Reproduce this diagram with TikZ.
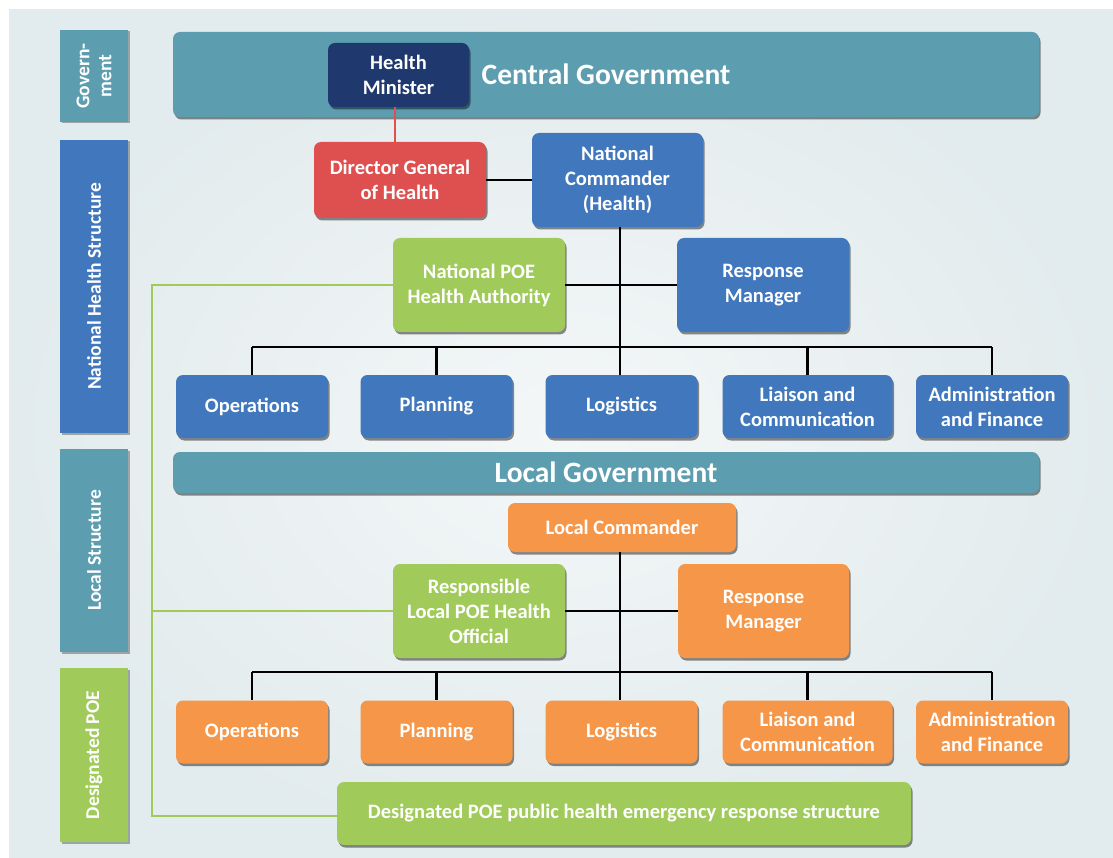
\documentclass[tikz,border=0pt]{standalone}
\usepackage{fontspec}
\setmainfont{Carlito}
\usetikzlibrary{calc}
\usetikzlibrary{shadows}
\definecolor{panelbg}{RGB}{226,235,237}
\definecolor{panelhi}{RGB}{244,247,248}
\definecolor{govteal}{RGB}{92,157,176}
\definecolor{healthblue}{RGB}{65,120,189}
\definecolor{ministernavy}{RGB}{31,57,110}
\definecolor{directorred}{RGB}{222,80,79}
\definecolor{poegreen}{RGB}{160,203,90}
\definecolor{localorange}{RGB}{246,150,72}
\tikzset{
	box/.style={rounded corners=7pt, text=white, align=center, inner sep=2pt,
		font=\bfseries\fontsize{20.5}{25}\selectfont,
		drop shadow={shadow xshift=1.5pt, shadow yshift=-2.5pt, opacity=.45, fill=black}},
	sidebar/.style={rotate=90, text=white, align=center, inner sep=2pt, minimum height=68pt,
		font=\bfseries\fontsize{19.5}{22}\selectfont,
		drop shadow={shadow xshift=1.5pt, shadow yshift=-1.5pt, opacity=.3, fill=black}},
	govbar/.style={box, fill=govteal, minimum width=866pt, font=\bfseries\fontsize{29.5}{34}\selectfont},
	unit/.style={box, minimum width=152pt, minimum height=63pt},
	link/.style={line width=2.2pt, black},
	poelink/.style={line width=2.2pt, poegreen},
}
\begin{document}
\begin{tikzpicture}[x=1pt,y=-1pt]
	\useasboundingbox (0,0) rectangle (1113,858);
	\shade[inner color=panelhi, outer color=panelbg] (9,10) rectangle (1113,858);
	% level labels
	\node[sidebar, fill=govteal, minimum width=92pt] (govlbl) at (94,76) {Govern-\\ment};
	\node[sidebar, fill=healthblue, minimum width=293pt] (nhslbl) at (94,286.5) {National Health Structure};
	\node[sidebar, fill=govteal, minimum width=203pt] (loclbl) at (94,550.5) {Local Structure};
	\node[sidebar, fill=poegreen, minimum width=174pt] (poelbl) at (94,755) {Designated POE};
	% national level
	\node[govbar, minimum height=85pt] (cgov) at (606,74.5) {Central Government};
	\node[box, fill=ministernavy, minimum width=141pt, minimum height=64pt] (hmin) at (398.5,75) {Health\\Minister};
	\node[box, fill=directorred, minimum width=172pt, minimum height=76pt] (dgen) at (400,180) {Director General\\of Health};
	\node[box, fill=healthblue, minimum width=171pt, minimum height=94pt] (ncom) at (617.5,180) {National\\Commander\\(Health)};
	\node[box, fill=poegreen, minimum width=172pt, minimum height=94pt] (npoe) at (479,285) {National POE\\Health Authority};
	\node[box, fill=healthblue, minimum width=172pt, minimum height=94pt] (nrm) at (763,285) {Response\\Manager};
	\node[unit, fill=healthblue] (nops) at (252,406.5) {Operations};
	\node[unit, fill=healthblue] (nplan) at (436.5,406.5) {Planning};
	\node[unit, fill=healthblue] (nlog) at (621.5,406.5) {Logistics};
	\node[unit, fill=healthblue, minimum width=170pt] (nlia) at (807.5,406.5) {Liaison and\\Communication};
	\node[unit, fill=healthblue] (nadm) at (992,406.5) {Administration\\and Finance};
	\coordinate (nbus) at (620,347);
	% local level
	\node[govbar, minimum height=41pt] (lgov) at (606,472.5) {Local Government};
	\node[box, fill=localorange, minimum width=228pt, minimum height=49pt] (lcom) at (622,527.5) {Local Commander};
	\node[box, fill=poegreen, minimum width=172pt, minimum height=94pt] (lpoe) at (479,611) {Responsible\\Local POE Health\\Official};
	\node[box, fill=localorange, minimum width=171pt, minimum height=94pt] (lrm) at (763.5,611) {Response\\Manager};
	\node[unit, fill=localorange] (lops) at (252,732) {Operations};
	\node[unit, fill=localorange] (lplan) at (436.5,732) {Planning};
	\node[unit, fill=localorange] (llog) at (621.5,732) {Logistics};
	\node[unit, fill=localorange, minimum width=170pt] (llia) at (807.5,732) {Liaison and\\Communication};
	\node[unit, fill=localorange] (ladm) at (992,732) {Administration\\and Finance};
	\coordinate (lbus) at (620,672);
	\node[box, fill=poegreen, minimum width=574pt, minimum height=63pt] (dresp) at (624,813.5) {Designated POE public health emergency response structure};
	% connectors
	\draw[line width=2pt, directorred] (hmin.south -| 395,0) -- (dgen.north -| 395,0);
	\draw[link] (dgen.east) -- (ncom.west |- dgen.east);
	\draw[link] (ncom.south -| nbus) -- (nlog.north -| nbus);
	\draw[link] (npoe.east) -- (nrm.west);
	\draw[link] (nops.north |- nbus) -- (nadm.north |- nbus);
	\foreach \u in {nops,nplan,nlia,nadm}
		\draw[link] (\u.north |- nbus) -- (\u.north);
	\draw[link] (lcom.south -| lbus) -- (llog.north -| lbus);
	\draw[link] (lpoe.east) -- (lrm.west);
	\draw[link] (lops.north |- lbus) -- (ladm.north |- lbus);
	\foreach \u in {lops,lplan,llia,ladm}
		\draw[link] (\u.north |- lbus) -- (\u.north);
	\coordinate (poerail) at (152,816);
	\draw[poelink] (npoe.west) -| (poerail) -- (dresp.west |- poerail);
	\draw[poelink] (lpoe.west) -- (lpoe.west -| poerail);
\end{tikzpicture}
\end{document}
